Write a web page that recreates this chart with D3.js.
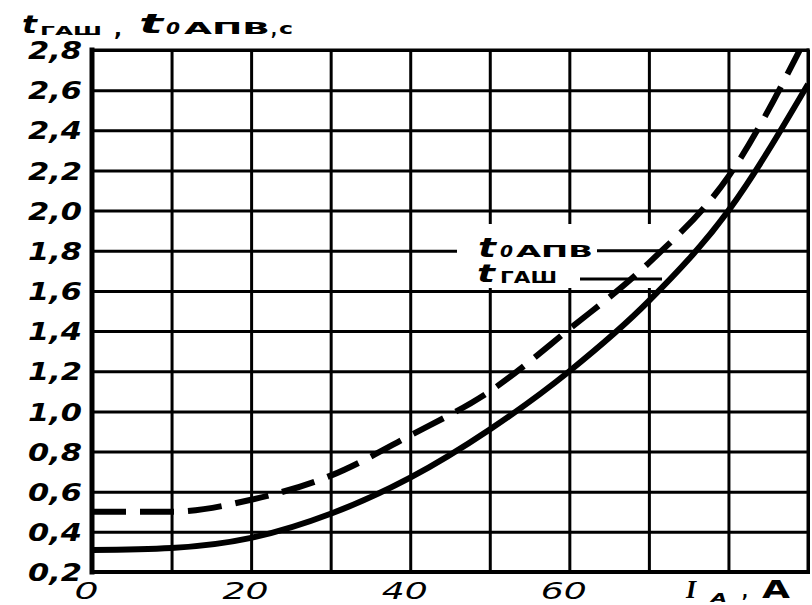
<!DOCTYPE html>
<html>
<head>
<meta charset="utf-8">
<script src="https://cdn.jsdelivr.net/npm/d3@7"></script>
<style>
body { margin: 0; background: #fff; }
</style>
</head>
<body>
<script>
// current I, A (one point per vertical grid line)
let currents = [0, 10, 20, 30, 40, 50, 60, 70, 80, 90];
// t_ГАШ, s  (solid curve)
let tGash = [0.31, 0.32, 0.37, 0.49, 0.67, 0.91, 1.20, 1.55, 2.00, 2.63];
// t_0АПВ, s (dashed curve)
let tOapv = [0.50, 0.50, 0.56, 0.68, 0.88, 1.10, 1.41, 1.74, 2.17, 2.88];

let yTicks = [0.2, 0.4, 0.6, 0.8, 1.0, 1.2, 1.4, 1.6, 1.8, 2.0, 2.2, 2.4, 2.6, 2.8];
let xGrid = [0, 10, 20, 30, 40, 50, 60, 70, 80, 90];
let xTicks = [0, 20, 40, 60];

let svg = d3.select("body").append("svg")
	.attr("width", 812)
	.attr("height", 605);

let x = d3.scaleLinear().domain([0, 90]).range([92, 808]);
let y = d3.scaleLinear().domain([0.2, 2.8]).range([572, 50]);

let font = "'DejaVu Sans', sans-serif";
let comma = d => d3.format(".1f")(d).replace(".", ",");
//the scanned lettering is much wider than any installed font, so stretch it
let wide = s => s.replace(/[^0-9]/g, "").length * 22 + (s.includes(",") ? 10 : 0);

//horizontal grid + y labels
let yAxis = svg.append("g")
	.attr("transform", `translate(${x(0)},0)`)
	.call(d3.axisLeft(y).tickValues(yTicks).tickSize(-(x(90) - x(0))).tickPadding(10).tickFormat(comma));
yAxis.select(".domain").remove();
yAxis.selectAll(".tick line").attr("stroke", "#000").attr("stroke-width", 3);
yAxis.selectAll(".tick text")
	.attr("fill", "#000")
	.attr("font-family", font)
	.attr("font-size", 24)
	.attr("font-weight", "bold")
	.attr("font-style", "italic")
	.attr("dy", "0.36em")
	.attr("textLength", function() { return wide(this.textContent); })
	.attr("lengthAdjust", "spacingAndGlyphs");

//vertical grid + x labels
let xAxis = svg.append("g")
	.attr("transform", `translate(0,${y(0.2)})`)
	.call(d3.axisBottom(x).tickValues(xGrid).tickSize(-(y(0.2) - y(2.8))).tickPadding(11)
		.tickFormat(d => xTicks.includes(d) ? d : ""));
xAxis.select(".domain").remove();
xAxis.selectAll(".tick line").attr("stroke", "#000").attr("stroke-width", 3);
xAxis.selectAll(".tick text")
	.attr("fill", "#000")
	.attr("font-family", font)
	.attr("font-size", 23)
	.attr("font-weight", "normal")
	.attr("font-style", "italic")
	.attr("dx", -6)
	.attr("dy", "0.68em")
	.attr("textLength", function() { return this.textContent ? wide(this.textContent) + 2 : null; })
	.attr("lengthAdjust", "spacingAndGlyphs");

//frame
let frame = svg.append("g").attr("stroke", "#000").attr("stroke-linecap", "square");
frame.append("line").attr("x1", x(0)).attr("x2", x(0)).attr("y1", y(2.8)).attr("y2", y(0.2)).attr("stroke-width", 5);
frame.append("line").attr("x1", x(0)).attr("x2", x(90)).attr("y1", y(0.2)).attr("y2", y(0.2)).attr("stroke-width", 4);
frame.append("line").attr("x1", x(0)).attr("x2", x(90)).attr("y1", y(2.8)).attr("y2", y(2.8)).attr("stroke-width", 3);
frame.append("line").attr("x1", x(90)).attr("x2", x(90)).attr("y1", y(2.8)).attr("y2", y(0.2)).attr("stroke-width", 3);

//blank area behind the curve labels
svg.append("rect")
	.attr("x", 457).attr("y", 224)
	.attr("width", 200).attr("height", 64)
	.attr("fill", "#fff");

//leader lines from the labels
svg.append("line").attr("x1", 597).attr("x2", 660).attr("y1", y(1.8)).attr("y2", y(1.8))
	.attr("stroke", "#000").attr("stroke-width", 3);
svg.append("line").attr("x1", 580).attr("x2", 662).attr("y1", 279).attr("y2", 279)
	.attr("stroke", "#000").attr("stroke-width", 3);

//curves
svg.append("clipPath").attr("id", "plot")
	.append("rect").attr("x", x(0)).attr("y", y(2.8)).attr("width", x(90) - x(0)).attr("height", y(0.2) - y(2.8));

let line = vals => d3.line()
	.x((d, i) => x(currents[i]))
	.y(d => y(d))
	.curve(d3.curveMonotoneX)(vals);

svg.append("path")
	.attr("d", line(tGash))
	.attr("clip-path", "url(#plot)")
	.attr("fill", "none")
	.attr("stroke", "#000")
	.attr("stroke-width", 6);

svg.append("path")
	.attr("d", line(tOapv))
	.attr("clip-path", "url(#plot)")
	.attr("fill", "none")
	.attr("stroke", "#000")
	.attr("stroke-width", 6)
	.attr("stroke-dasharray", "34,14");

//text pieces: [text, x, y, size, italic, width]
function write(pieces) {
	pieces.forEach(p => {
		svg.append("text")
			.attr("x", p[1]).attr("y", p[2])
			.attr("font-family", font)
			.attr("font-size", p[3])
			.attr("font-weight", "bold")
			.attr("font-style", p[4] ? "italic" : "normal")
			.attr("textLength", p[5])
			.attr("lengthAdjust", "spacingAndGlyphs")
			.text(p[0]);
	});
}

//y axis title
write([
	["t", 22, 33, 24, 1, 15],
	["ГАШ", 40, 35, 13, 0, 62],
	[",", 114, 36, 22, 0, 8],
	["t", 139, 33, 26, 1, 24],
	["0", 166, 34, 15, 1, 14],
	["АПВ", 184, 34, 15, 0, 86],
	[",", 271, 35, 18, 0, 6],
	["с", 279, 34, 16, 0, 14]
]);

//curve labels
write([
	["t", 478, 257, 26, 1, 18],
	["0", 500, 257, 16, 1, 13],
	["АПВ", 516, 257, 16, 0, 77],
	["t", 477, 282, 24, 1, 18],
	["ГАШ", 500, 283, 15, 0, 57]
]);

//x axis title
svg.append("text")
	.attr("x", 686).attr("y", 598)
	.attr("font-family", "'Liberation Serif', serif")
	.attr("font-size", 26)
	.attr("font-style", "italic")
	.attr("font-weight", "bold")
	.text("I");
write([
	["А", 711, 602, 13, 1, 16],
	[",", 742, 597, 18, 0, 6],
	["А", 762, 598, 24, 0, 28]
]);
</script>
</body>
</html>
